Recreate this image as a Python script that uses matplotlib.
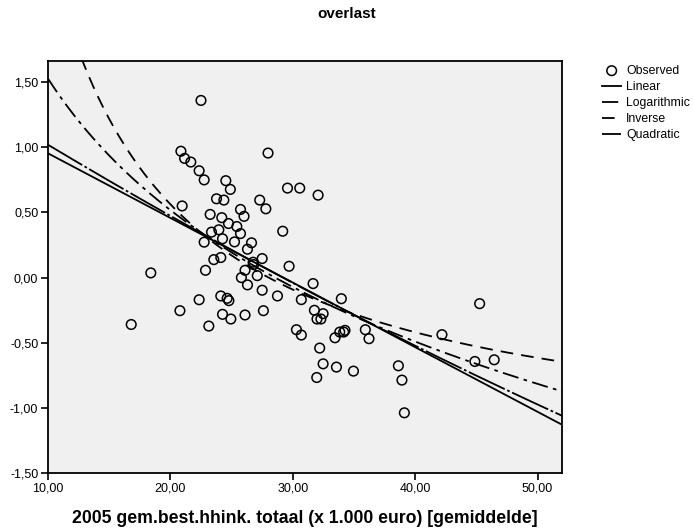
import numpy as np
import matplotlib
matplotlib.use("Agg")
import matplotlib.pyplot as plt
from matplotlib.ticker import FuncFormatter

plt.rcParams['font.family'] = ['Liberation Sans', 'DejaVu Sans']

income = [22.5, 20.86, 21.16, 21.67, 22.35, 22.76, 24.53, 24.9, 23.77, 24.37,
          27.98, 27.3, 27.8, 20.96, 23.25, 24.2, 25.73, 26.02, 29.57, 30.57,
          32.07, 29.18, 24.75, 25.43, 25.73, 23.96, 23.36, 24.26, 22.76, 25.24,
          26.63, 26.3, 27.5, 26.76, 26.8, 23.55, 24.12, 22.87, 26.1, 29.7,
          25.8, 27.1, 26.3, 27.5, 18.4, 22.35, 24.12, 24.64, 24.78, 28.75,
          20.78, 24.26, 24.94, 26.1, 27.6, 23.14, 31.66, 33.97, 30.7, 31.77,
          32.48, 31.98, 32.3, 30.3, 30.7, 33.84, 34.16, 34.27, 33.45, 35.93,
          36.23, 32.2, 32.48, 33.57, 34.96, 31.96, 38.63, 38.92, 39.12, 45.27,
          42.19, 44.88, 46.46, 16.8]
overlast = [1.36, 0.97, 0.915, 0.887, 0.82, 0.75, 0.744, 0.677, 0.605, 0.595,
            0.956, 0.595, 0.528, 0.55, 0.485, 0.46, 0.523, 0.47, 0.687, 0.687,
            0.633, 0.356, 0.415, 0.392, 0.338, 0.367, 0.349, 0.298, 0.272, 0.274,
            0.267, 0.218, 0.146, 0.118, 0.10, 0.138, 0.154, 0.056, 0.056, 0.087,
            0.0, 0.015, -0.056, -0.097, 0.036, -0.17, -0.141, -0.159, -0.177, -0.141,
            -0.254, -0.282, -0.318, -0.287, -0.254, -0.372, -0.046, -0.162, -0.169, -0.251,
            -0.277, -0.318, -0.318, -0.40, -0.441, -0.418, -0.418, -0.405, -0.462, -0.40,
            -0.469, -0.541, -0.662, -0.687, -0.718, -0.767, -0.677, -0.787, -1.038, -0.20,
            -0.438, -0.644, -0.631, -0.36]

# Fitted model coefficients
linear_coef = [1.45, -0.0496]               # b0 + b1*x
log_coef = [4.88, -1.456]                   # b0 + b1*ln(x)
inverse_coef = [-1.402, 39.3]               # b0 + b1/x
quad_coef = [1.597, -0.05932, 0.000158]     # b0 + b1*x + b2*x^2

xticks = [10, 20, 30, 40, 50]
yticks = [-1.5, -1.0, -0.5, 0.0, 0.5, 1.0, 1.5]

fig = plt.figure(figsize=(6.94, 5.32), dpi=100)
ax = fig.add_axes([48/694, 1 - 473/532, (562-48)/694, (473-60.7)/532])
ax.set_facecolor('#F0F0F0')

xs = np.linspace(10, 52, 400)
lw = 1.3
ax.plot(xs, linear_coef[0] + linear_coef[1]*xs, color='black', lw=lw, ls='-', label='Linear')
ax.plot(xs, log_coef[0] + log_coef[1]*np.log(xs), color='black', lw=lw,
        ls=(0, (9, 3, 2, 3)), label='Logarithmic')
ax.plot(xs, inverse_coef[0] + inverse_coef[1]/xs, color='black', lw=lw,
        ls=(0, (7, 4.5)), label='Inverse')
ax.plot(xs, quad_coef[0] + quad_coef[1]*xs + quad_coef[2]*xs**2, color='black', lw=lw,
        ls=(0, (22, 1.5, 1.5, 1.5)), label='Quadratic')
sc = ax.scatter(income, overlast, s=48, facecolors='none', edgecolors='black',
                linewidths=1.1, zorder=3, label='Observed')

ax.set_xlim(10, 52)
ax.set_ylim(-1.5, 1.665)
ax.set_xticks(xticks)
ax.set_yticks(yticks)
fmt = FuncFormatter(lambda v, p: f"{v:.2f}".replace('.', ','))
ax.xaxis.set_major_formatter(fmt)
ax.yaxis.set_major_formatter(fmt)
ax.tick_params(direction='out', length=5, width=1.2, labelsize=9, colors='black', pad=2)
for s in ax.spines.values():
    s.set_linewidth(1.3)
    s.set_color('black')

ax.set_xlabel('2005 gem.best.hhink. totaal (x 1.000 euro) [gemiddelde]',
              fontsize=12.7, fontweight='bold', labelpad=11)
fig.text(0.5, 1 - 14/532, 'overlast', ha='center', va='center', fontsize=11, fontweight='bold')

handles, labels = ax.get_legend_handles_labels()
order = ['Observed', 'Linear', 'Logarithmic', 'Inverse', 'Quadratic']
hmap = dict(zip(labels, handles))
leg = fig.legend([hmap[k] for k in order], order, loc='upper left',
                 bbox_to_anchor=(597/694, 1 - 60/532), frameon=False, fontsize=8.8,
                 handlelength=1.6, labelspacing=0.33, handletextpad=0.4, borderaxespad=0)

fig.savefig('out.png', dpi=100)
